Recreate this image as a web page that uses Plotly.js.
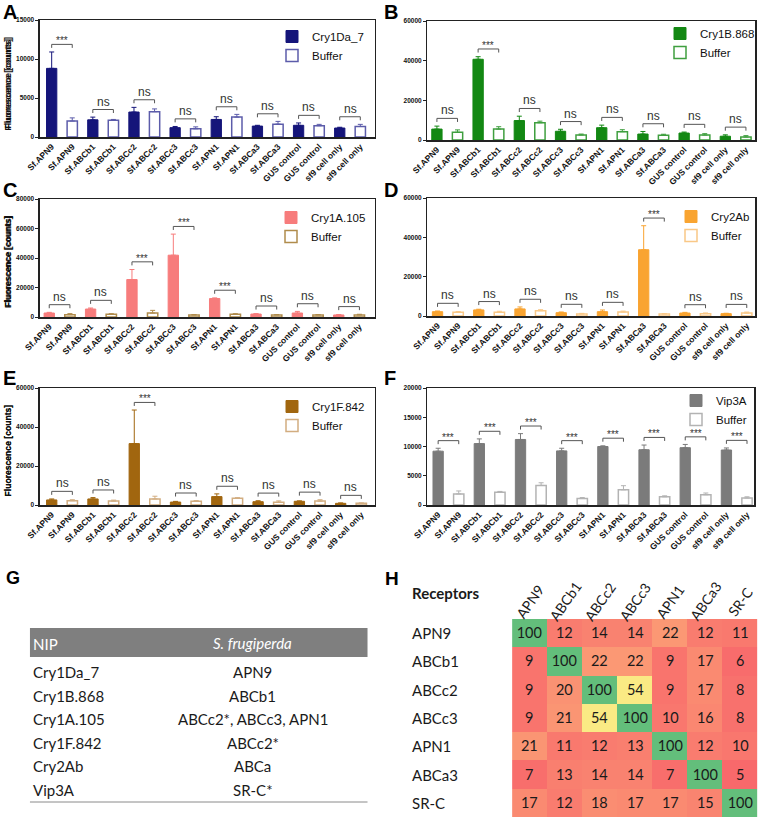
<!DOCTYPE html>
<html><head><meta charset="utf-8">
<script src="https://cdn.plot.ly/plotly-3.0.1.min.js"></script>
<style>html,body{margin:0;padding:0;background:#fff}#chart{width:760px;height:817px}</style>
</head><body><div id="chart"></div>
<script>
// ---------------- DATA ----------------
const categories = ['Sf.APN9','Sf.ABCb1','Sf.ABCc2','Sf.ABCc3','Sf.APN1','Sf.ABCa3','GUS control','sf9 cell only'];
const tickLabels = categories.flatMap(c => [c, c]);
const bufferName = 'Buffer';
const toxinNames = ['Cry1Da_7','Cry1B.868','Cry1A.105','Cry2Ab','Cry1F.842','Vip3A'];

// Panel A – Cry1Da_7
const toxA    = [8800, 2200, 3200, 1200, 2250, 1400, 1500, 1150];
const toxAErr = [2100,  350,  600,  150,  350,  100,  300,  100];
const bufA    = [2050, 2150, 3250, 1050, 2550, 1650, 1450, 1350];
const bufAErr = [ 400,  100,  350,  250,  350,  350,  170,  270];
const sigA    = ['***','ns','ns','ns','ns','ns','ns','ns'];
// Panel B – Cry1B.868
const toxB    = [5500, 40700, 9800, 4400, 6200, 3000, 3500, 1900];
const toxBErr = [1500,  1300, 2200, 1000, 1300, 1300,  500,  700];
const bufB    = [3900,  5500, 8700, 2500, 4200, 2400, 2500, 1500];
const bufBErr = [1200,  1200,  800,  500, 1000,  500,  700,  700];
const sigB    = ['ns','***','ns','ns','ns','ns','ns','ns'];
// Panel C – Cry1A.105
const toxC    = [2700, 5400, 25400, 41900, 12500, 2000, 2700, 1400];
const toxCErr = [ 450,  700,  6800, 14300,   450,  250, 1100,  250];
const bufC    = [1600, 1800,  2700,  1400,  1800, 1400, 1400, 1400];
const bufCErr = [ 700,  450,  1800,   250,   450,  250,  250,  450];
const sigC    = ['ns','ns','***','***','***','ns','ns','ns'];
// Panel D – Cry2Ab
const toxD    = [2200, 3100, 3600, 1700, 2200, 33700, 1500, 1200];
const toxDErr = [ 350,  350, 1000,  350,  850, 12200,  350,  200];
const bufD    = [1900, 1900, 2700, 1000, 2000,  1000, 1200, 1500];
const bufDErr = [ 350,  500,  500,  350,  500,   200,  350,  500];
const sigD    = ['ns','ns','ns','ns','ns','***','ns','ns'];
// Panel E – Cry1F.842
const toxE    = [2600, 3100, 31500, 1500, 4300, 1700, 1900, 850];
const toxEErr = [ 500,  700, 17200,  350, 1400,  500,  200, 200];
const bufE    = [2200, 2000,  3100, 1900, 3400, 1400, 2000, 850];
const bufEErr = [ 500,  500,  1400,  350,  350,  700,  700, 200];
const sigE    = ['ns','ns','***','ns','ns','ns','ns','ns'];
// Panel F – Vip3A
const toxF    = [9200, 10500, 11200, 9250, 10000, 9450, 9800, 9400];
const toxFErr = [ 500,   800,  1000,  450,   120,  800,  550,  350];
const bufF    = [1900,  2200,  3350, 1100,  2600, 1400, 1750, 1200];
const bufFErr = [ 500,   120,   450,  170,   700,  170,  300,  200];
const sigF    = ['***','***','***','***','***','***','***','***'];

// Panel G – table
const tableHeader = ['NIP', 'S. frugiperda'];
const nipNames    = ['Cry1Da_7','Cry1B.868','Cry1A.105','Cry1F.842','Cry2Ab','Vip3A'];
const nipReceptors= ['APN9','ABCb1','ABCc2*, ABCc3, APN1','ABCc2*','ABCa','SR-C*'];

// Panel H – identity heatmap
const receptorLabels = ['APN9','ABCb1','ABCc2','ABCc3','APN1','ABCa3','SR-C'];
const identity = [
  [100, 12, 14, 14, 22, 12, 11],
  [  9,100, 22, 22,  9, 17,  6],
  [  9, 20,100, 54,  9, 17,  8],
  [  9, 21, 54,100, 10, 16,  8],
  [ 21, 11, 12, 13,100, 12, 10],
  [  7, 13, 14, 14,  7,100,  5],
  [ 17, 12, 18, 17, 17, 15,100]
];

// ---------------- STYLE / LAYOUT ----------------
const W = 760, H = 817;
const px = v => v / W;
const py = v => 1 - v / H;
const FONT = 'Arial, "Liberation Sans", sans-serif';
const CAL = 'Lato, "Open Sans", sans-serif';

const panelData = [
  {tox: toxA, toxErr: toxAErr, buf: bufA, bufErr: bufAErr, sig: sigA},
  {tox: toxB, toxErr: toxBErr, buf: bufB, bufErr: bufBErr, sig: sigB},
  {tox: toxC, toxErr: toxCErr, buf: bufC, bufErr: bufCErr, sig: sigC},
  {tox: toxD, toxErr: toxDErr, buf: bufD, bufErr: bufDErr, sig: sigD},
  {tox: toxE, toxErr: toxEErr, buf: bufE, bufErr: bufEErr, sig: sigE},
  {tox: toxF, toxErr: toxFErr, buf: bufF, bufErr: bufFErr, sig: sigF}
];
const panelStyle = [
  {label:'A', ymax:15000, dtick:5000,  color:'#15157a', bufColor:'#5c5caa', box:[40,375,20,137],  xr:[-0.57,15.69], leg:[272,22],  lab:[1,12]},
  {label:'B', ymax:60000, dtick:20000, color:'#138813', bufColor:'#3f9f3f', box:[428,756,21,140], xr:[-0.46,15.44], leg:[661,19],  lab:[383,12]},
  {label:'C', ymax:80000, dtick:20000, color:'#f77c7c', bufColor:'#b08c4c', box:[40,375,199,317], xr:[-0.45,15.73], leg:[271,203], lab:[1,190]},
  {label:'D', ymax:60000, dtick:20000, color:'#f9a431', bufColor:'#f9c887', box:[428,756,198,316], xr:[-0.49,15.4],  leg:[671,202], lab:[383,190]},
  {label:'E', ymax:60000, dtick:20000, color:'#a1660f', bufColor:'#d2ad80', box:[40,375,388,505], xr:[-0.57,15.64], leg:[272,392], lab:[1,378]},
  {label:'F', ymax:20000, dtick:5000,  color:'#7b7b7b', bufColor:'#b3b3b3', box:[428,755,388,505], xr:[-0.52,15.34], leg:[676,386], lab:[383,378]}
];

const traces = [];
const annotations = [];
const shapes = [];
const layout = {
  width: W, height: H,
  margin: {l:0, r:0, t:0, b:0},
  paper_bgcolor: '#fff', plot_bgcolor: '#fff',
  barmode: 'overlay',
  separators: '.',
  font: {family: FONT, color: '#111'},
  showlegend: true,
  hovermode: false
};

const xEven = categories.map((c, i) => 2 * i);
const xOdd  = categories.map((c, i) => 2 * i + 1);
const zeros = categories.map(() => 0);

panelData.forEach((d, k) => {
  const s = panelStyle[k];
  const suf = k === 0 ? '' : String(k + 1);
  const xa = 'x' + suf, ya = 'y' + suf, lg = 'legend' + suf;
  traces.push({
    type: 'bar', name: toxinNames[k], x: xEven, y: d.tox, width: 0.5,
    xaxis: xa, yaxis: ya, legend: lg,
    marker: {color: s.color, line: {color: s.color, width: 1}},
    error_y: {type: 'data', symmetric: false, array: d.toxErr, arrayminus: zeros,
              color: s.color, thickness: 1, width: 2.5}
  });
  traces.push({
    type: 'bar', name: bufferName, x: xOdd, y: d.buf, width: 0.5,
    xaxis: xa, yaxis: ya, legend: lg,
    marker: {color: '#ffffff', line: {color: s.bufColor, width: 1.5}},
    error_y: {type: 'data', symmetric: false, array: d.bufErr, arrayminus: zeros,
              color: s.bufColor, thickness: 1, width: 2.5}
  });
  // significance brackets
  const bx = [], by = [];
  const gap = 0.065 * s.ymax, tick = 0.03 * s.ymax;
  d.sig.forEach((sg, i) => {
    const top = Math.max(d.tox[i] + d.toxErr[i], d.buf[i] + d.bufErr[i]) + gap;
    bx.push(2*i, 2*i, 2*i+1, 2*i+1, null);
    by.push(top - tick, top, top, top - tick, null);
    annotations.push({
      xref: xa, yref: ya, x: 2*i + 0.5, y: top, text: sg, showarrow: false,
      xanchor: 'center', yanchor: 'bottom', yshift: sg === 'ns' ? -1 : -4,
      font: {family: FONT, size: sg === 'ns' ? 12 : 10, color: '#333'}
    });
  });
  traces.push({
    type: 'scatter', mode: 'lines', x: bx, y: by, xaxis: xa, yaxis: ya,
    line: {color: '#555', width: 1}, showlegend: false, hoverinfo: 'skip'
  });

  layout['xaxis' + suf] = {
    domain: [px(s.box[0]), px(s.box[1])], anchor: ya, range: s.xr,
    tickmode: 'array', tickvals: tickLabels.map((t, i) => i), ticktext: tickLabels,
    tickangle: -45, tickfont: {family: FONT, size: 8.5, weight: 'bold', color: '#111'},
    showline: true, mirror: true, linecolor: '#222', linewidth: 1.5,
    ticks: '', showgrid: false, zeroline: false, fixedrange: true
  };
  layout['yaxis' + suf] = {
    domain: [py(s.box[3]), py(s.box[2])], anchor: xa, range: [0, s.ymax], dtick: s.dtick,
    tickformat: 'd',
    tickfont: {family: FONT, size: 6.5, weight: 'bold', color: '#111'},
    exponentformat: 'none', separatethousands: false,
    ticks: 'outside', ticklen: 3, tickwidth: 1, tickcolor: '#222',
    showline: true, mirror: true, linecolor: '#222', linewidth: 1.5,
    showgrid: false, zeroline: false, fixedrange: true
  };
  layout[lg] = {
    x: px(s.leg[0]), y: py(s.leg[1]), xanchor: 'left', yanchor: 'top',
    bgcolor: 'rgba(0,0,0,0)', font: {family: FONT, size: 11.5, color: '#111'},
    tracegroupgap: 0, itemwidth: 30
  };
  // y-axis title
  annotations.push({
    xref: 'paper', yref: 'paper', x: px(8), y: py((s.box[2] + s.box[3]) / 2 + 4),
    text: 'Fluorescence [counts]', textangle: -90, showarrow: false,
    xanchor: 'center', yanchor: 'middle',
    font: {family: FONT, size: 8.6, weight: 'bold', color: '#111'}
  });
  // panel letter
  annotations.push({
    xref: 'paper', yref: 'paper', x: px(s.lab[0]), y: py(s.lab[1]),
    text: '<b>' + s.label + '</b>', showarrow: false, xanchor: 'left', yanchor: 'middle',
    font: {family: FONT, size: 20, color: '#000'}
  });
});

// ---------------- Panel G: table ----------------
annotations.push({xref:'paper', yref:'paper', x:px(4), y:py(578), text:'<b>G</b>', showarrow:false,
  xanchor:'left', yanchor:'middle', font:{family: FONT, size: 18, color:'#000'}});
shapes.push({type:'rect', xref:'paper', yref:'paper', x0:px(30), x1:px(368), y0:py(657), y1:py(628),
  fillcolor:'#7f7f7f', line:{width:0}, layer:'below'});
shapes.push({type:'line', xref:'paper', yref:'paper', x0:px(30), x1:px(368), y0:py(802), y1:py(802),
  line:{color:'#8a8a8a', width:1}});
annotations.push({xref:'paper', yref:'paper', x:px(31), y:py(644), text: tableHeader[0], showarrow:false,
  xanchor:'left', yanchor:'middle', font:{family: CAL, size: 15, color:'#fff'}});
annotations.push({xref:'paper', yref:'paper', x:px(253), y:py(643), text:'<i>' + tableHeader[1] + '</i>', showarrow:false,
  xanchor:'center', yanchor:'middle', font:{family: CAL, size: 15, color:'#fff'}});
nipNames.forEach((n, i) => {
  const yy = 672 + i * 23.5;
  annotations.push({xref:'paper', yref:'paper', x:px(31), y:py(yy), text:n, showarrow:false,
    xanchor:'left', yanchor:'middle', font:{family: CAL, size: 15, color:'#1a1a1a'}});
  annotations.push({xref:'paper', yref:'paper', x:px(253), y:py(yy), text:nipReceptors[i], showarrow:false,
    xanchor:'center', yanchor:'middle', font:{family: CAL, size: 15, color:'#1a1a1a'}});
});

// ---------------- Panel H: heatmap ----------------
traces.push({
  type: 'heatmap', z: identity, x: receptorLabels, y: receptorLabels,
  xaxis: 'x7', yaxis: 'y7', zmin: 5, zmax: 100, showscale: false,
  colorscale: [[0, '#f8696b'], [0.5, '#ffeb84'], [1, '#63be7b']],
  texttemplate: '%{z}', textfont: {family: CAL, size: 14.5, color: '#1a1a1a'},
  xgap: 0, ygap: 0, hoverinfo: 'skip', showlegend: false
});
layout.xaxis7 = {domain:[px(510), 1], anchor:'y7', showticklabels:false, showgrid:false, zeroline:false, ticks:'', fixedrange:true};
layout.yaxis7 = {domain:[0, py(619)], anchor:'x7', autorange:'reversed', showticklabels:false, showgrid:false, zeroline:false, ticks:'', fixedrange:true};
annotations.push({xref:'paper', yref:'paper', x:px(384), y:py(578), text:'<b>H</b>', showarrow:false,
  xanchor:'left', yanchor:'middle', font:{family: FONT, size: 19, color:'#000'}});
annotations.push({xref:'paper', yref:'paper', x:px(411), y:py(593), text:'<b>Receptors</b>', showarrow:false,
  xanchor:'left', yanchor:'middle', font:{family: CAL, size: 15, color:'#1a1a1a'}});
receptorLabels.forEach(r => {
  annotations.push({xref:'paper', yref:'y7', x:px(411), y:r, text:r, showarrow:false,
    xanchor:'left', yanchor:'middle', font:{family: CAL, size: 15, color:'#1a1a1a'}});
  annotations.push({xref:'x7', yref:'paper', x:r, y:py(601), text:r, showarrow:false, textangle:-55,
    xanchor:'center', yanchor:'middle', font:{family: CAL, size: 14, color:'#1a1a1a'}});
});

layout.annotations = annotations;
layout.shapes = shapes;

Plotly.newPlot('chart', traces, layout, {staticPlot: true, displayModeBar: false});
</script>
</body></html>
